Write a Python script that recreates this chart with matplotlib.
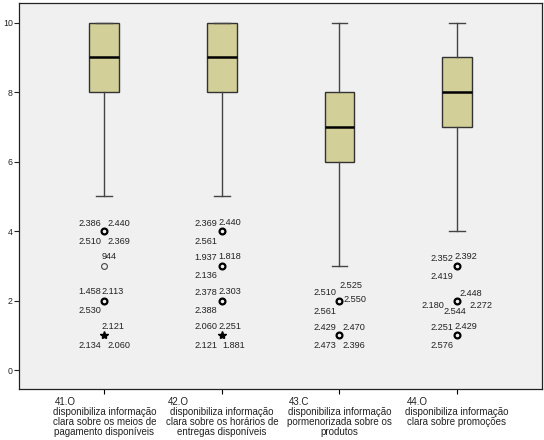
import matplotlib
matplotlib.use("Agg")
import matplotlib.pyplot as plt
from matplotlib.transforms import IdentityTransform

plt.rcParams["font.family"] = ["Liberation Sans", "DejaVu Sans"]

# categories (heading + description)
headings = ["41.O", "42.O", "43.C", "44.O"]
categories = [
    "disponibiliza informação\nclara sobre os meios de\npagamento disponíveis",
    "disponibiliza informação\nclara sobre os horários de\nentregas disponíveis",
    "disponibiliza informação\npormenorizada sobre os\nprodutos",
    "disponibiliza informação\nclara sobre promoções",
]

# box statistics
q1 = [8, 8, 6, 7]
medians = [9, 9, 7, 8]
q3 = [10, 10, 8, 9]
whisker_lo = [5, 5, 3, 4]
whisker_hi = [10, 10, 10, 10]

# outliers: box index (1-based), value, extreme (star), case labels
out_box = [1, 1, 1, 1, 2, 2, 2, 2, 3, 3, 4, 4, 4]
out_value = [4, 3, 2, 1, 4, 3, 2, 1, 2, 1, 3, 2, 1]
out_extreme = [False, False, False, True, False, False, False, True,
               False, False, False, False, False]
out_cases = [
    ["2.386", "2.440", "2.510", "2.369"],
    ["944"],
    ["1.458", "2.113", "2.530"],
    ["2.121", "2.134", "2.060"],
    ["2.369", "2.440", "2.561"],
    ["1.937", "1.818", "2.136"],
    ["2.378", "2.303", "2.388"],
    ["2.060", "2.251", "2.121", "1.881"],
    ["2.525", "2.510", "2.550", "2.561"],
    ["2.429", "2.470", "2.473", "2.396"],
    ["2.352", "2.392", "2.419"],
    ["2.448", "2.180", "2.544", "2.272"],
    ["2.251", "2.429", "2.576"],
]

# where each case label sits around its point (dx px, dy px up, alignment)
label_layout = [
    [(-2.6, 8.6, "right"), (3, 9.0, "left"), (-2.6, -9.3, "right"), (3, -9.3, "left")],
    [(-2.6, 10, "left")],
    [(-3.5, 10, "right"), (-3, 10, "left"), (-2.6, -9.3, "right")],
    [(-3, 9.3, "left"), (-2.6, -9.3, "right"), (3, -9.3, "left")],
    [(-4.4, 9, "right"), (-3.4, 10, "left"), (-4.4, -9.3, "right")],
    [(-4.4, 9.7, "right"), (-3.7, 10.7, "left"), (-4.4, -9, "right")],
    [(-4.4, 9.3, "right"), (-3.4, 10, "left"), (-4.4, -9.3, "right")],
    [(-4.4, 9.3, "right"), (-3.4, 10, "left"), (-4.4, -9.3, "right"), (0, -9.3, "left")],
    [(-0.3, 15.7, "left"), (-3.3, 9, "right"), (4, 1.7, "left"), (-3.3, -10, "right")],
    [(-3.3, 8.3, "right"), (3.4, 8.3, "left"), (-3.3, -9.7, "right"), (3.4, -9.7, "left")],
    [(-3.7, 8.4, "right"), (-2, 10, "left"), (-3.7, -9.3, "right")],
    [(3, 8.3, "left"), (-13, -4, "right"), (-13, -10, "left"), (12.3, -4, "left")],
    [(-3.7, 9, "right"), (-2, 9.7, "left"), (-3.7, -9.7, "right")],
]


def main():
    fig, ax = plt.subplots(figsize=(5.44, 4.4), dpi=100)
    fig.subplots_adjust(left=0.0344, right=0.9956, top=0.9925, bottom=0.117)
    ax.set_facecolor("#F0F0F0")

    positions = list(range(1, len(q1) + 1))
    stats = [dict(med=m, q1=a, q3=b, whislo=lo, whishi=hi, fliers=[])
             for m, a, b, lo, hi in zip(medians, q1, q3, whisker_lo, whisker_hi)]
    ax.bxp(stats, positions=positions, widths=0.253, capwidths=0.134,
           patch_artist=True, showfliers=False,
           boxprops=dict(facecolor="#D3CF98", edgecolor="#333333", linewidth=1.0),
           medianprops=dict(color="black", linewidth=1.8),
           whiskerprops=dict(color="#444444", linewidth=1.0),
           capprops=dict(color="#444444", linewidth=1.0))

    px = 72 / fig.dpi
    for b, v, ext, cases, layout in zip(out_box, out_value, out_extreme,
                                        out_cases, label_layout):
        if ext:
            ax.plot(b, v, marker="*", ms=6, color="black", linestyle="none")
        else:
            bold = len(cases) > 1
            ax.plot(b, v, marker="o", ms=4.2, mfc="none",
                    mec="black" if bold else "#444444",
                    mew=1.6 if bold else 0.8, linestyle="none")
        for text, (dx, dy, ha) in zip(cases, layout):
            ax.annotate(text, (b, v), xytext=(dx * px, (dy - 0.9) * px),
                        textcoords="offset points", ha=ha, va="center",
                        fontsize=6.6, color="#222222")

    ax.set_xlim(0.272, 4.72)
    ax.set_ylim(-0.53, 10.56)
    ax.set_yticks([0, 2, 4, 6, 8, 10])
    ax.set_xticks(positions)
    ax.set_xticklabels(categories, fontsize=7, linespacing=1.0, color="#222222")
    ax.tick_params(axis="y", labelsize=6.3, length=3.8, width=0.8, pad=0.5,
                   colors="#222222")
    ax.tick_params(axis="x", length=3.6, width=0.8, pad=9.6)
    for s in ax.spines.values():
        s.set_color("#222222")
        s.set_linewidth(0.9)

    fig.canvas.draw()
    for lab, head in zip(ax.get_xticklabels(), headings):
        bb = lab.get_window_extent()
        fig.text(bb.x0 + 2, bb.y1, head, transform=IdentityTransform(),
                 ha="left", va="bottom", fontsize=7, color="#222222")

    fig.savefig("out.png", dpi=100)


if __name__ == "__main__":
    main()
